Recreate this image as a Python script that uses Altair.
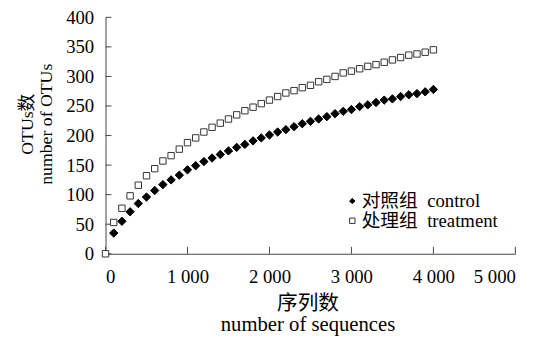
import altair as alt
import pandas as pd

# ---- data ----
control_seqs = list(range(100, 4100, 100))
control_otus = [35, 55, 71, 85, 96, 107, 117, 125, 133, 142,
                149, 156, 162, 168, 174, 180, 185, 191, 196, 201,
                206, 210, 215, 220, 224, 228, 232, 237, 241, 244,
                249, 252, 256, 260, 262, 266, 269, 271, 274, 278]
treatment_seqs = list(range(0, 4100, 100))
treatment_otus = [0, 53, 77, 98, 116, 132, 144, 157, 166, 177,
                  188, 196, 206, 214, 221, 228, 235, 242, 248, 254,
                  260, 266, 272, 276, 281, 285, 291, 295, 300, 306,
                  309, 313, 317, 320, 324, 328, 332, 336, 338, 341,
                  345]
series_names = ["对照组\u00a0\u00a0control", "处理组\u00a0\u00a0treatment"]
x_ticks = [0, 1000, 2000, 3000, 4000, 5000]
y_ticks = [0, 50, 100, 150, 200, 250, 300, 350, 400]
x_title = ["序列数", "number of sequences"]
y_title = ["OTUs数", "number of OTUs"]

ctrl_df = pd.DataFrame({"seqs": control_seqs, "otus": control_otus, "series": series_names[0]})
trt_df = pd.DataFrame({"seqs": treatment_seqs, "otus": treatment_otus, "series": series_names[1]})

FONT = "'Liberation Serif', 'Noto Sans CJK SC', serif"
AX = "#444444"
W, H = 416, 240

xscale = alt.Scale(domain=[0, 5000], nice=False, zero=True)
yscale = alt.Scale(domain=[0, 400], nice=False)

legend = alt.Legend(
    title=None, orient="none", legendX=241, legendY=177,
    labelFontSize=19, labelColor="#000000", labelLimit=300,
    symbolSize=30, symbolStrokeWidth=1, rowPadding=0, labelOffset=0, padding=0,
)

x_axis = alt.Axis(
    values=x_ticks,
    labelExpr="replace(format(datum.value, ','), ',', ' ')",
    ticks=False, tickSize=0, grid=False, domainColor=AX, domainWidth=1,
    labelFontSize=19, labelColor="#000000", labelPadding=14,
    title=x_title, titleFontSize=21, titleFontWeight="normal",
    titleColor="#000000", titleLineHeight=21, titleX=205, titleY=57,
    titleBaseline="alphabetic", titleAlign="center",
)
y_axis = alt.Axis(
    values=y_ticks,
    ticks=False, tickSize=0, grid=False, domainColor=AX, domainWidth=1,
    labelFontSize=19, labelColor="#000000", labelPadding=12,
    title=y_title, titleFontSize=18, titleFontWeight="normal",
    titleColor="#000000", titleLineHeight=19, titleAngle=270,
    titleX=-74, titleY=108, titleBaseline="alphabetic", titleAlign="center",
)


def series_layer(data, size):
    return alt.Chart(data).mark_point(opacity=1, strokeWidth=1, size=size).encode(
        x=alt.X("seqs:Q", scale=xscale, axis=x_axis),
        y=alt.Y("otus:Q", scale=yscale, axis=y_axis),
        shape=alt.Shape("series:N", scale=alt.Scale(domain=series_names, range=["diamond", "square"]), legend=legend),
        fill=alt.Fill("series:N", scale=alt.Scale(domain=series_names, range=["#000000", "#ffffff"]), legend=legend),
        stroke=alt.Stroke("series:N", scale=alt.Scale(domain=series_names, range=["#000000", "#333333"]), legend=legend),
    )


ctrl_layer = series_layer(ctrl_df, 72)
trt_layer = series_layer(trt_df, 42)

ytick_rules = alt.Chart(pd.DataFrame({"otus": y_ticks})).mark_rule(color=AX, strokeWidth=1).encode(
    y=alt.Y("otus:Q", scale=yscale, axis=y_axis),
    x=alt.value(0), x2=alt.value(6),
)
xtick_rules = alt.Chart(pd.DataFrame({"seqs": x_ticks})).mark_rule(color=AX, strokeWidth=1).encode(
    x=alt.X("seqs:Q", scale=xscale, axis=x_axis),
    y=alt.value(H), y2=alt.value(H - 7),
)

chart = alt.layer(ytick_rules, xtick_rules, ctrl_layer, trt_layer).properties(
    width=W, height=H,
    autosize=alt.AutoSizeParams(type="none"),
    padding={"left": 99, "top": 7, "right": 24, "bottom": 81},
).configure(
    font=FONT,
).configure_axis(
    labelFont=FONT, titleFont=FONT,
).configure_legend(
    labelFont=FONT,
).configure_view(stroke=None)

chart.save("out.html", embed_options={"renderer": "svg", "actions": False})
